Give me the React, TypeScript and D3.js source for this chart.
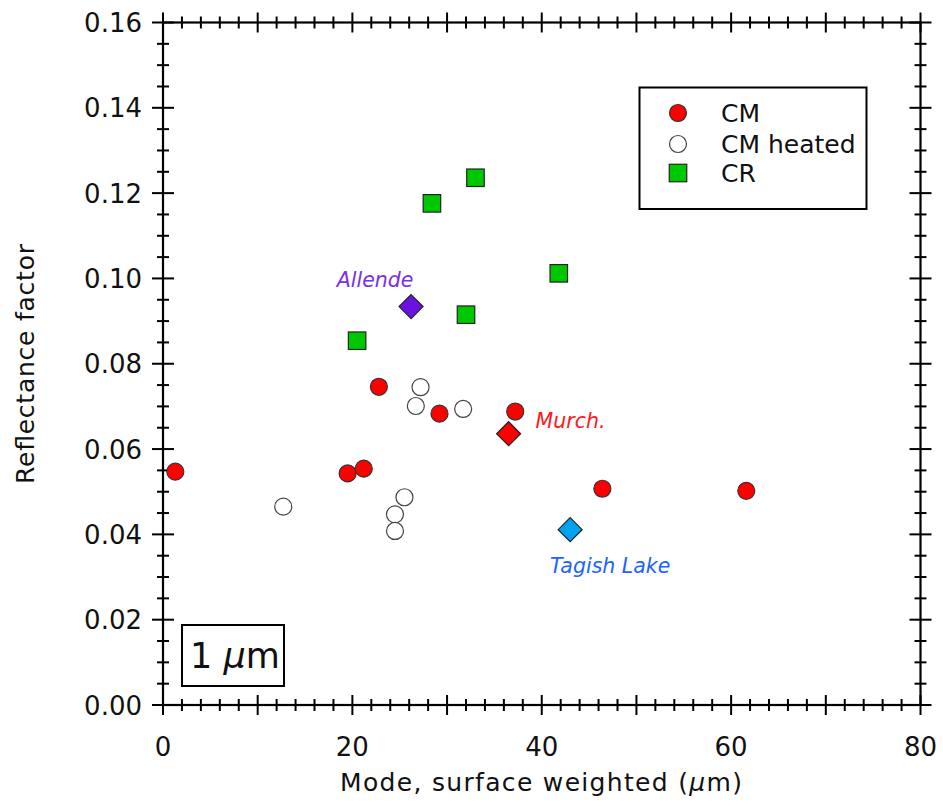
import React from "react";
import * as d3 from "d3";

// ---- data ----
const cmX = [1.3, 19.5, 21.2, 22.8, 29.2, 37.2, 46.4, 61.6];
const cmY = [0.0547, 0.0543, 0.0554, 0.0746, 0.0683, 0.0688, 0.0507, 0.0502];

const cmHeatedX = [12.7, 27.2, 26.7, 31.7, 25.5, 24.5, 24.5];
const cmHeatedY = [0.0465, 0.0745, 0.0701, 0.0694, 0.0487, 0.0447, 0.0408];

const crX = [20.5, 28.4, 33.0, 32.0, 41.8];
const crY = [0.0854, 0.1176, 0.1236, 0.0915, 0.1012];

const specialNames = ["Allende", "Murch.", "Tagish Lake"];
const specialX = [26.2, 36.5, 43.0];
const specialY = [0.0934, 0.0636, 0.0411];

const xTickLabels = [0, 20, 40, 60, 80];
const yTickLabels = [0, 0.02, 0.04, 0.06, 0.08, 0.1, 0.12, 0.14, 0.16];
const legendLabels = ["CM", "CM heated", "CR"];

const FONT = "'DejaVu Sans', Verdana, sans-serif";

export default function App() {
  const W = 943, H = 809;
  const x0 = 163, x1 = 920.5, y0 = 705, y1 = 22.5;
  const x = d3.scaleLinear().domain([0, 80]).range([x0, x1]);
  const y = d3.scaleLinear().domain([0, 0.16]).range([y0, y1]);

  const xMinor = d3.range(0, 80.001, 2);
  const yMinor = d3.range(0, 0.16001, 0.005);

  const circleR = 8.5;
  const sq = 17.5;
  const dia = 12;

  const diamond = (cx: number, cy: number, r: number) =>
    `M${cx},${cy - r}L${cx + r},${cy}L${cx},${cy + r}L${cx - r},${cy}Z`;

  const specialFill = ["#6b12e3", "#ff0000", "#00a3f0"];
  const specialText = ["#7a2fe8", "#ff1a1a", "#2062ff"];
  const labelPos = [
    { dx: -36, dy: -20, anchor: "middle" },
    { dx: 27, dy: -6, anchor: "start" },
    { dx: 40, dy: 43, anchor: "middle" },
  ];

  const ticks: React.ReactNode[] = [];
  xMinor.forEach((v, i) => {
    const major = Math.round(v) % 10 === 0;
    const L = major ? 10 : 6;
    const px = x(v);
    ticks.push(<line key={"xb" + i} x1={px} x2={px} y1={y0 - L} y2={y0 + L} />);
    ticks.push(<line key={"xt" + i} x1={px} x2={px} y1={y1 - L} y2={y1 + L} />);
  });
  yMinor.forEach((v, i) => {
    const major = Math.round(v * 1000) % 20 === 0;
    const L = major ? 11 : 6;
    const py = y(v);
    ticks.push(<line key={"yl" + i} x1={x0 - L} x2={x0 + L} y1={py} y2={py} />);
    ticks.push(<line key={"yr" + i} x1={x1 - L} x2={x1 + L} y1={py} y2={py} />);
  });

  const legendX = 678;
  const legendRows = [113, 144, 173];

  return (
    <svg width={W} height={H} style={{ position: "absolute", left: 0, top: 0, background: "#fff" }}>
      <rect x={0} y={0} width={W} height={H} fill="#fff" />
      {/* frame */}
      <rect x={x0} y={y1} width={x1 - x0} height={y0 - y1} fill="none" stroke="#000" strokeWidth={2.2} />
      <g stroke="#000" strokeWidth={2}>{ticks}</g>

      {/* tick labels */}
      <g fontFamily={FONT} fontSize={26} fill="#111">
        {xTickLabels.map((v) => (
          <text key={"xl" + v} x={x(v)} y={756} textAnchor="middle">{v}</text>
        ))}
        {yTickLabels.map((v) => (
          <text key={"yl" + v} x={142} y={y(v) + 9.5} textAnchor="end">{v.toFixed(2)}</text>
        ))}
      </g>

      {/* axis titles */}
      <text x={541} y={791} textAnchor="middle" fontFamily={FONT} fontSize={25} fill="#111"
        textLength={402} lengthAdjust="spacing">
        Mode, surface weighted (<tspan fontStyle="italic">μ</tspan>m)
      </text>
      <text transform="translate(34,364) rotate(-90)" textAnchor="middle" fontFamily={FONT} fontSize={25}
        fill="#111" textLength={240} lengthAdjust="spacing">
        Reflectance factor
      </text>

      {/* CR squares */}
      {crX.map((v, i) => (
        <rect key={"cr" + i} x={x(v) - sq / 2} y={y(crY[i]) - sq / 2} width={sq} height={sq}
          fill="#00c800" stroke="#222" strokeWidth={1.2} />
      ))}
      {/* CM heated */}
      {cmHeatedX.map((v, i) => (
        <circle key={"ch" + i} cx={x(v)} cy={y(cmHeatedY[i])} r={circleR} fill="#fff" stroke="#444" strokeWidth={1.2} />
      ))}
      {/* CM */}
      {cmX.map((v, i) => (
        <circle key={"cm" + i} cx={x(v)} cy={y(cmY[i])} r={circleR} fill="#ff0000" stroke="#333" strokeWidth={1.2} />
      ))}
      {/* special diamonds */}
      {specialX.map((v, i) => (
        <g key={"sp" + i}>
          <path d={diamond(x(v), y(specialY[i]), dia)} fill={specialFill[i]} stroke="#222" strokeWidth={1.2} />
          <text x={x(v) + labelPos[i].dx} y={y(specialY[i]) + labelPos[i].dy} textAnchor={labelPos[i].anchor as any}
            fontFamily={FONT} fontSize={20.5} fontStyle="italic" fill={specialText[i]}>
            {specialNames[i]}
          </text>
        </g>
      ))}

      {/* legend */}
      <rect x={639.5} y={87.5} width={227} height={121.5} fill="#fff" stroke="#000" strokeWidth={2} />
      <circle cx={legendX} cy={legendRows[0]} r={circleR} fill="#ff0000" stroke="#333" strokeWidth={1.2} />
      <circle cx={legendX} cy={legendRows[1]} r={circleR} fill="#fff" stroke="#444" strokeWidth={1.2} />
      <rect x={legendX - sq / 2} y={legendRows[2] - sq / 2} width={sq} height={sq} fill="#00c800" stroke="#222" strokeWidth={1.2} />
      {legendLabels.map((t, i) => (
        <text key={"lg" + i} x={721} y={legendRows[i] + 9} fontFamily={FONT} fontSize={25} fill="#111">{t}</text>
      ))}

      {/* 1 μm box */}
      <rect x={182} y={625} width={102} height={61} fill="#fff" stroke="#000" strokeWidth={2} />
      <text x={190} y={668} fontFamily={FONT} fontSize={35} fill="#111">
        1 <tspan fontStyle="italic">μ</tspan>m
      </text>
    </svg>
  );
}
